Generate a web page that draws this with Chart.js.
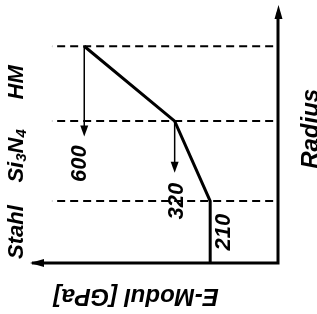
<!DOCTYPE html>
<html>
<head>
<meta charset="utf-8">
<script src="https://cdn.jsdelivr.net/npm/chart.js@4/dist/chart.umd.min.js"></script>
<style>
  html,body{margin:0;padding:0;background:#fff}
  #wrap{width:317px;height:314px;position:relative}
</style>
</head>
<body>
<div id="wrap"><canvas id="c"></canvas></div>
<script>
/* E-Modul profile over radius (Stahl / Si3N4 / HM), axis rotated: E grows to the left */

// material bands, from inside to outside
var materials=['Stahl','Si3N4','HM'];
var eModul=[210,320,600];          // GPa
var radiusTop=[2.4,5.5,8.4];       // band upper boundaries (arbitrary radius units)
var eMax=768,rMax=10;
var dashFrom=15,dashTo=700;        // extent of the dashed boundaries in E units
var arrowEnds=[4.9,3.5];           // where the down arrows stop (radius)

var FONT='italic bold 22px "Liberation Sans", Arial, sans-serif';

// profile line: straight in steel, then rising to 320 and 600
var profile=[{x:eModul[0],y:0}];
for(var i=0;i<eModul.length;i++)profile.push({x:eModul[i],y:radiusTop[i]});

var datasets=[];
radiusTop.forEach(function(r){
  datasets.push({data:[{x:dashFrom,y:r},{x:dashTo,y:r}],borderColor:'#000',borderWidth:2,borderDash:[8,5],showLine:true,pointRadius:0,clip:false});
});
datasets.push({data:profile,borderColor:'#000',borderWidth:3,showLine:true,pointRadius:0,clip:false,borderJoinStyle:'miter'});
// axes
datasets.push({data:[{x:eMax-6,y:0},{x:0,y:0},{x:0,y:rMax-0.3}],borderColor:'#000',borderWidth:3,showLine:true,pointRadius:0,clip:false});
// thin arrows from the upper corners
datasets.push({data:[{x:eModul[2],y:radiusTop[2]},{x:eModul[2],y:arrowEnds[0]+0.3}],borderColor:'#000',borderWidth:1.5,showLine:true,pointRadius:0,clip:false});
datasets.push({data:[{x:eModul[1],y:radiusTop[1]},{x:eModul[1],y:arrowEnds[1]+0.3}],borderColor:'#000',borderWidth:1.5,showLine:true,pointRadius:0,clip:false});

function head(ctx,tx,ty,dir,len,hw){
  ctx.beginPath();
  if(dir==='up'){ctx.moveTo(tx,ty);ctx.lineTo(tx-hw,ty+len);ctx.lineTo(tx+hw,ty+len)}
  else if(dir==='down'){ctx.moveTo(tx,ty);ctx.lineTo(tx-hw,ty-len);ctx.lineTo(tx+hw,ty-len)}
  else {ctx.moveTo(tx,ty);ctx.lineTo(tx+len,ty-hw);ctx.lineTo(tx+len,ty+hw)}
  ctx.closePath();ctx.fill();
}

function rotText(ctx,txt,x,y,ang,base){
  ctx.save();ctx.translate(x,y);ctx.rotate(ang);
  ctx.textAlign='center';ctx.textBaseline=base||'middle';
  ctx.fillText(txt,0,0);ctx.restore();
}

var decor={
  id:'decor',
  afterDatasetsDraw:function(chart){
    var ctx=chart.ctx,sx=chart.scales.x,sy=chart.scales.y;
    ctx.save();ctx.fillStyle='#000';
    // axis arrowheads
    head(ctx,sx.getPixelForValue(0)+0.5,sy.getPixelForValue(rMax),'up',14,4);
    head(ctx,sx.getPixelForValue(eMax),sy.getPixelForValue(0),'left',14,4);
    // thin arrowheads
    head(ctx,sx.getPixelForValue(eModul[2]),sy.getPixelForValue(arrowEnds[0]),'down',11,4);
    head(ctx,sx.getPixelForValue(eModul[1]),sy.getPixelForValue(arrowEnds[1]),'down',11,4);

    ctx.font=FONT;
    var up=-Math.PI/2;
    // values
    rotText(ctx,String(eModul[2]),sx.getPixelForValue(eModul[2])-4,sy.getPixelForValue(3.85),up);
    rotText(ctx,String(eModul[1]),sx.getPixelForValue(eModul[1])+2,sy.getPixelForValue(2.4),up);
    rotText(ctx,String(eModul[0]),sx.getPixelForValue(eModul[0])+14,sy.getPixelForValue(1.2),up);
    // material names
    rotText(ctx,materials[0],17,sy.getPixelForValue(1.2),up);
    rotText(ctx,materials[2],17,sy.getPixelForValue(7.0),up);
    // Si3N4 with subscripts
    ctx.save();
    ctx.translate(17,sy.getPixelForValue(4.15));ctx.rotate(up);
    ctx.textBaseline='middle';ctx.textAlign='left';
    var parts=[['Si',0,false],['3',5,true],['N',0,false],['4',5,true]];
    var small='italic bold 15px "Liberation Sans", Arial, sans-serif';
    var w=0;
    parts.forEach(function(p){ctx.font=p[2]?small:FONT;w+=ctx.measureText(p[0]).width});
    var cx=-w/2;
    parts.forEach(function(p){ctx.font=p[2]?small:FONT;ctx.fillText(p[0],cx,p[1]);cx+=ctx.measureText(p[0]).width});
    ctx.restore();
    // axis titles
    ctx.font='italic bold 24px "Liberation Sans", Arial, sans-serif';
    rotText(ctx,'Radius',318,sy.getPixelForValue(5.2),up,'alphabetic');
    rotText(ctx,'E-Modul [GPa]',136,296,Math.PI);
    ctx.restore();
  }
};

new Chart(document.getElementById('c'),{
  type:'scatter',
  data:{datasets:datasets},
  options:{
    responsive:true,
    maintainAspectRatio:false,
    animation:false,
    events:[],
    layout:{padding:{left:30,right:39,top:5,bottom:51}},
    plugins:{legend:{display:false},tooltip:{enabled:false}},
    scales:{
      x:{type:'linear',min:0,max:eMax,reverse:true,display:false},
      y:{type:'linear',min:0,max:rMax,display:false}
    }
  },
  plugins:[decor]
});
</script>
</body>
</html>
